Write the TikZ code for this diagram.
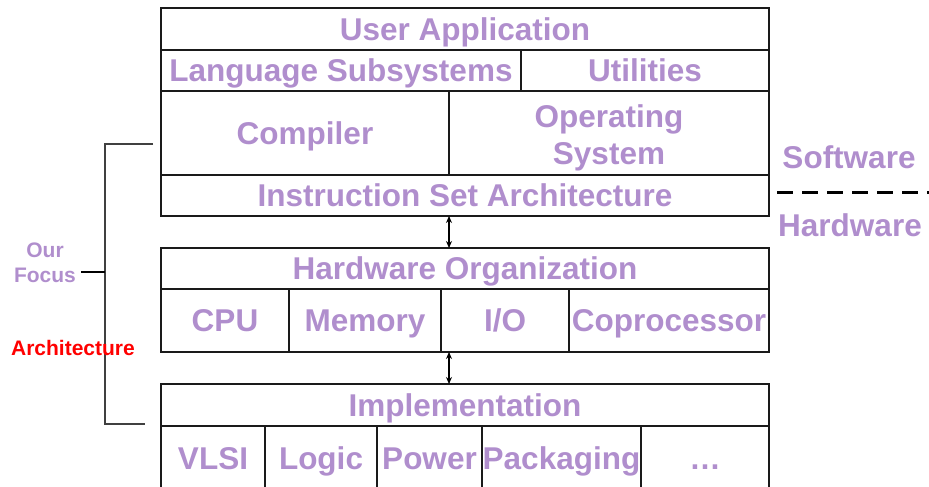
\documentclass[tikz,border=0pt]{standalone}
\usepackage{fontspec}
\setmainfont{Liberation Sans}
\usetikzlibrary{arrows.meta}
\definecolor{lav}{HTML}{B08ECD}
\definecolor{edge}{HTML}{1A1A1A}
\tikzset{
  cell/.style={draw=edge, line width=1.3pt, rectangle, inner sep=0pt, outer sep=0pt,
    text=lav, font=\bfseries\fontsize{31.5}{37}\selectfont,
    text height=22.7pt, text depth=0pt},
  twoline/.style={align=center, text height=63.6pt, text depth=0pt},
  side/.style={text=lav, font=\bfseries\fontsize{31.5}{37}\selectfont, inner sep=0pt},
  small/.style={font=\bfseries\fontsize{21}{25}\selectfont, inner sep=0pt, align=center},
  link/.style={line width=1.1pt, {Stealth[length=7pt,width=6pt]}-{Stealth[length=7pt,width=6pt]}},
  brace/.style={draw=black!75, line width=1.1pt}
}
\begin{document}
\begin{tikzpicture}[x=1pt, y=-1pt]
\useasboundingbox (0,0) rectangle (929,487);
\clip (0,0) rectangle (929,487);

% software stack
\node[cell, minimum width=608pt, minimum height=42pt] (ua)   at (465,29)    {User Application};
\node[cell, minimum width=360pt, minimum height=41pt] (lang) at (341,70.5)  {Language Subsystems};
\node[cell, minimum width=248pt, minimum height=41pt] (util) at (645,70.5)  {Utilities};
\node[cell, minimum width=288pt, minimum height=84pt] (comp) at (305,133)   {Compiler};
\node[cell, twoline, minimum width=320pt, minimum height=84pt] (os) at (609,133) {Operating\\System};
\node[cell, minimum width=608pt, minimum height=41pt] (isa)  at (465,195.5) {Instruction Set Architecture};

% organization
\node[cell, minimum width=608pt, minimum height=41pt] (ho)   at (465,268.5) {Hardware Organization};
\node[cell, minimum width=128pt, minimum height=63pt] (cpu)  at (225,320.5) {CPU};
\node[cell, minimum width=152pt, minimum height=63pt] (mem)  at (365,320.5) {Memory};
\node[cell, minimum width=128pt, minimum height=63pt] (io)   at (505,320.5) {I/O};
\node[cell, minimum width=200pt, minimum height=63pt] (cop)  at (669,320.5) {Coprocessor};

% implementation
\node[cell, minimum width=608pt, minimum height=42pt] (impl) at (465,405)   {Implementation};
\node[cell, minimum width=104pt, minimum height=64pt] (vlsi) at (213,458)   {VLSI};
\node[cell, minimum width=112pt, minimum height=64pt] (logic) at (321,458)  {Logic};
\node[cell, minimum width=105pt, minimum height=64pt] (power) at (429.5,458) {Power};
\node[cell, minimum width=159pt, minimum height=64pt] (pack) at (561.5,458) {Packaging};
\node[cell, minimum width=128pt, minimum height=64pt] (dots) at (705,458)   {\dots};

% interfaces between layers
\draw[link] (isa.south -| comp.south east) -- (ho.north -| comp.south east);
\draw[link] (cpu.south -| comp.south east) -- (impl.north -| comp.south east);

% focus bracket
\coordinate (btop) at (153,144);
\coordinate (bbot) at (145,424);
\coordinate (bmid) at (105,272);
\coordinate (tick) at (81,272);
\draw[brace] (btop) -- (105,144) -- (105,424) -- (bbot);
\draw[line width=2pt, black] (tick) -- (bmid);
\node[small, text=lav] (focus) at (45,263) {Our\\Focus};
\node[small, text=red] (arch) at (73,348) {Architecture};

% software / hardware boundary
\node[side] (sw) at (849,157) {Software};
\node[side] (hw) at (850,225) {Hardware};
\coordinate (dl) at (777,192);
\coordinate (dr) at (932,192);
\draw[line width=3pt, black, dash pattern=on 16pt off 9pt] (dl) -- (dr);
\end{tikzpicture}
\end{document}
